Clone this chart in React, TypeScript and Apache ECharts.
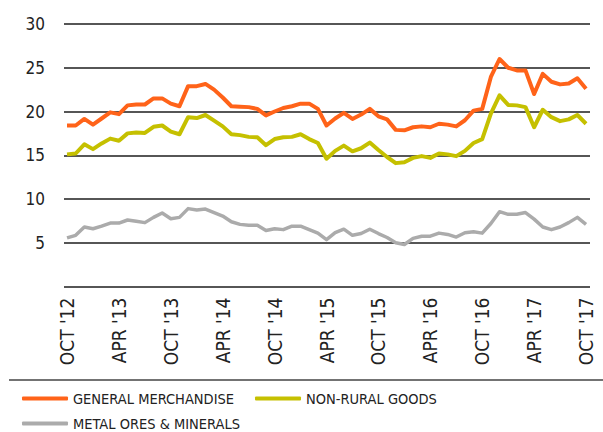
import React, { useEffect, useRef } from "react";
import * as echarts from "echarts";

const tickLabels = ["OCT '12", "APR '13", "OCT '13", "APR '14", "OCT '14", "APR '15", "OCT '15", "APR '16", "OCT '16", "APR '17", "OCT '17"];
const seriesNames = ["GENERAL MERCHANDISE", "NON-RURAL GOODS", "METAL ORES & MINERALS"];
const colors = ["#FF6319", "#C5C000", "#ABABAB"];

// Monthly, Oct 2012 .. Oct 2017 (61 points)
const generalMerchandise = [
  18.4, 18.4, 19.15, 18.5, 19.2, 19.9, 19.7, 20.7, 20.8, 20.8,
  21.5, 21.5, 20.9, 20.6, 22.9, 22.9, 23.15, 22.5, 21.6, 20.6,
  20.55, 20.5, 20.3, 19.55, 20.0, 20.4, 20.6, 20.9, 20.9, 20.3,
  18.4, 19.2, 19.85, 19.15, 19.65, 20.3, 19.45, 19.1, 17.9, 17.85,
  18.2, 18.3, 18.2, 18.6, 18.5, 18.3, 19.0, 20.1, 20.3, 23.95,
  26.0, 25.0, 24.7, 24.7, 22.0, 24.3, 23.4, 23.1, 23.2, 23.8,
  22.6,
];
const nonRuralGoods = [
  15.1, 15.2, 16.25, 15.7, 16.35, 16.9, 16.65, 17.5, 17.6, 17.55,
  18.25, 18.4, 17.7, 17.4, 19.35, 19.25, 19.6, 18.95, 18.3, 17.4,
  17.3, 17.1, 17.05, 16.15, 16.85, 17.05, 17.1, 17.4, 16.85, 16.4,
  14.6, 15.5, 16.1, 15.45, 15.8, 16.45, 15.6, 14.8, 14.1, 14.2,
  14.7, 14.9, 14.7, 15.2, 15.1, 14.9, 15.5, 16.4, 16.85, 19.75,
  21.85, 20.75, 20.7, 20.5, 18.2, 20.2, 19.35, 18.9, 19.1, 19.6,
  18.6,
];
const metalOres = [
  5.55, 5.85, 6.8, 6.6, 6.9, 7.25, 7.25, 7.6, 7.45, 7.3,
  7.9, 8.4, 7.75, 7.9, 8.9, 8.75, 8.85, 8.45, 8.05, 7.4,
  7.1, 7.0, 7.0, 6.4, 6.6, 6.5, 6.9, 6.9, 6.5, 6.1,
  5.35, 6.15, 6.55, 5.85, 6.05, 6.55, 6.05, 5.6, 5.0, 4.8,
  5.5, 5.75, 5.75, 6.1, 5.95, 5.65, 6.15, 6.25, 6.1, 7.2,
  8.55, 8.25, 8.25, 8.45, 7.7, 6.8, 6.5, 6.8, 7.3, 7.9,
  7.1,
];
const tickPositions = tickLabels.map((_, i) => i * 6);

const FONT = "'DejaVu Sans Condensed', 'Liberation Sans Narrow', 'Roboto', sans-serif";

export default function App() {
  const ref = useRef<HTMLDivElement>(null);
  useEffect(() => {
    if (!ref.current) return;
    const chart = echarts.init(ref.current, undefined, { renderer: "svg" });
    const allData = [generalMerchandise, nonRuralGoods, metalOres];
    const legendBase = {
      orient: "horizontal",
      left: 22,
      padding: 0,
      itemWidth: 46,
      itemHeight: 4,
      itemGap: 21,
      icon: "roundRect",
      textStyle: { fontSize: 14.5, color: "#222", fontFamily: FONT },
    };
    chart.setOption({
      animation: false,
      backgroundColor: "#ffffff",
      grid: { left: 64, right: 13, top: 24, bottom: 145.5, containLabel: false },
      xAxis: {
        type: "value",
        min: -0.35,
        max: 60.46,
        axisLine: { show: false },
        axisTick: { show: false },
        splitLine: { show: false },
        axisLabel: {
          customValues: tickPositions,
          formatter: (v: number) => tickLabels[Math.round(v / 6)] ?? "",
          rotate: 90,
          margin: 11,
          fontSize: 19,
          color: "#222",
          fontFamily: FONT,
        },
      },
      yAxis: {
        type: "value",
        min: 0,
        max: 30,
        interval: 5,
        axisLine: { show: false },
        axisTick: { show: false },
        splitLine: { show: true, lineStyle: { color: "#1e1e1e", width: 1.6 } },
        axisLabel: {
          formatter: (v: number) => (v === 0 ? "" : String(v)),
          margin: 19,
          fontSize: 17,
          color: "#222",
          fontFamily: FONT,
        },
      },
      legend: [
        { ...legendBase, data: [seriesNames[0], seriesNames[1]], top: 391 },
        { ...legendBase, data: [seriesNames[2]], top: 416 },
      ],
      graphic: [
        {
          type: "line",
          shape: { x1: 9, y1: 380, x2: 603, y2: 380 },
          style: { stroke: "#444", lineWidth: 1.5 },
        },
      ],
      series: seriesNames.map((name, si) => ({
        name,
        type: "line",
        showSymbol: false,
        symbol: "none",
        color: colors[si],
        lineStyle: { width: si === 2 ? 3.5 : 4, color: colors[si], join: "round" },
        data: allData[si].map((v, i) => [i, v]),
        z: 3 - si,
      })),
    });
    return () => chart.dispose();
  }, []);
  return <div ref={ref} style={{ position: "fixed", left: 0, top: 0, width: 603, height: 432 }} />;
}
